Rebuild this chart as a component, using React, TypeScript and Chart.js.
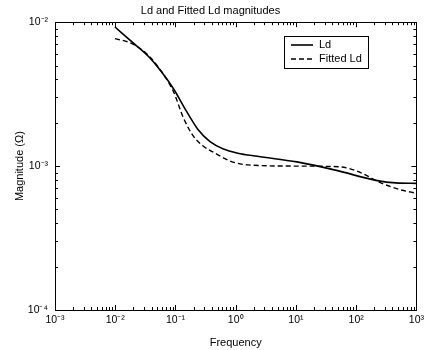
import React, { useEffect, useRef } from 'react';
import { Chart, registerables } from 'chart.js';

Chart.register(...registerables);

// ---- data ----
const ldFreq = [0.0099, 0.0205, 0.036, 0.0568, 0.0927, 0.151, 0.238, 0.375, 0.612, 1.08, 2.29, 10.4, 47, 213, 453, 1000];
const ldMag = [0.00926, 0.00709, 0.00575, 0.0046, 0.00345, 0.00242, 0.00179, 0.00148, 0.00132, 0.00123, 0.00117, 0.00107, 0.000934, 0.000796, 0.000764, 0.000759];

const fitFreq = [0.0099, 0.017, 0.0322, 0.0526, 0.0927, 0.135, 0.197, 0.288, 0.453, 0.828, 1.57, 10.4, 32.2, 68.5, 121, 257, 547, 1000];
const fitMag = [0.00768, 0.00724, 0.0061, 0.00483, 0.00329, 0.00217, 0.00162, 0.00138, 0.00123, 0.00108, 0.00102, 0.001, 0.000996, 0.000973, 0.000897, 0.000764, 0.000684, 0.000648];

const seriesLabels = ['Ld', 'Fitted Ld'];
const xDecades = [1e-3, 1e-2, 1e-1, 1e0, 1e1, 1e2, 1e3];
const yDecades = [1e-4, 1e-3, 1e-2];
const chartTitle = 'Ld and Fitted Ld magnitudes';
const xTitle = 'Frequency';
const yTitle = 'Magnitude (\u03A9)';

const SUP: Record<string, string> = {
  '-': '\u207B', '0': '\u2070', '1': '\u00B9', '2': '\u00B2', '3': '\u00B3',
  '4': '\u2074', '5': '\u2075', '6': '\u2076', '7': '\u2077', '8': '\u2078', '9': '\u2079',
};
const powLabel = (v: number) => {
  const e = String(Math.round(Math.log10(v)));
  return '10' + e.split('').map((c) => SUP[c] || c).join('');
};

const FONT = "'Liberation Sans', Arial, sans-serif";

const matlabPlugin = {
  id: 'matlabBox',
  afterDatasetsDraw(chart: any) {
    const { ctx, chartArea, scales } = chart;
    const { left, right, top, bottom } = chartArea;
    const xs = scales.x;
    const ys = scales.y;
    ctx.save();
    ctx.strokeStyle = '#000';
    ctx.lineWidth = 1;
    ctx.setLineDash([]);
    ctx.strokeRect(Math.round(left) + 0.5, Math.round(top) + 0.5, Math.round(right - left), Math.round(bottom - top));

    const major = 5;
    const minor = 3;
    ctx.beginPath();
    for (let e = -3; e <= 3; e++) {
      for (let m = 1; m <= 9; m++) {
        const v = m * Math.pow(10, e);
        if (v > 1000.0001) break;
        const px = Math.round(xs.getPixelForValue(v)) + 0.5;
        const len = m === 1 ? major : minor;
        ctx.moveTo(px, bottom);
        ctx.lineTo(px, bottom - len);
        ctx.moveTo(px, top);
        ctx.lineTo(px, top + len);
      }
    }
    for (let e = -4; e <= -2; e++) {
      for (let m = 1; m <= 9; m++) {
        const v = m * Math.pow(10, e);
        if (v > 0.0100001) break;
        const py = Math.round(ys.getPixelForValue(v)) + 0.5;
        const len = m === 1 ? major : minor;
        ctx.moveTo(left, py);
        ctx.lineTo(left + len, py);
        ctx.moveTo(right, py);
        ctx.lineTo(right - len, py);
      }
    }
    ctx.stroke();

    // legend
    const bx = 284;
    const by = 36;
    const bw = 84;
    const bh = 32;
    ctx.fillStyle = '#fff';
    ctx.fillRect(bx, by, bw, bh);
    ctx.strokeRect(bx + 0.5, by + 0.5, bw, bh);
    ctx.font = `11px ${FONT}`;
    ctx.textBaseline = 'middle';
    ctx.textAlign = 'left';
    chart.data.datasets.forEach((ds: any, i: number) => {
      const ly = by + 9 + i * 14;
      ctx.beginPath();
      ctx.lineWidth = ds.borderWidth;
      ctx.setLineDash(ds.borderDash || []);
      ctx.moveTo(bx + 7, ly);
      ctx.lineTo(bx + 29, ly);
      ctx.stroke();
      ctx.setLineDash([]);
      ctx.fillStyle = '#000';
      ctx.fillText(ds.label, bx + 35, ly);
    });
    ctx.restore();
  },
};

export default function App() {
  const ref = useRef<HTMLCanvasElement | null>(null);
  useEffect(() => {
    if (!ref.current) return;
    const chart = new Chart(ref.current, {
      type: 'line',
      data: {
        datasets: [
          {
            label: seriesLabels[0],
            data: ldFreq.map((f, i) => ({ x: f, y: ldMag[i] })),
            borderColor: '#000',
            borderWidth: 1.6,
            pointRadius: 0,
            cubicInterpolationMode: 'monotone',
            fill: false,
          },
          {
            label: seriesLabels[1],
            data: fitFreq.map((f, i) => ({ x: f, y: fitMag[i] })),
            borderColor: '#000',
            borderWidth: 1.4,
            borderDash: [5, 3],
            pointRadius: 0,
            cubicInterpolationMode: 'monotone',
            fill: false,
          },
        ],
      },
      options: {
        responsive: false,
        animation: false,
        layout: { padding: { left: 0, right: 7, top: 0, bottom: 0 } },
        plugins: {
          legend: { display: false },
          tooltip: { enabled: false },
          title: {
            display: true,
            text: chartTitle,
            color: '#000',
            font: { family: FONT, size: 11, weight: 'normal' },
            padding: { top: 4, bottom: 5 },
          },
        },
        scales: {
          x: {
            type: 'logarithmic',
            min: 1e-3,
            max: 1e3,
            afterBuildTicks: (scale: any) => {
              scale.ticks = xDecades.map((v) => ({ value: v }));
            },
            afterFit: (scale: any) => {
              scale.height = 40;
            },
            ticks: {
              autoSkip: false,
              maxRotation: 0,
              padding: 4,
              color: '#000',
              font: { family: FONT, size: 10.5 },
              callback: (v: any) => powLabel(Number(v)),
            },
            grid: { display: false, drawTicks: false },
            border: { display: false },
            title: {
              display: true,
              text: xTitle,
              color: '#000',
              font: { family: FONT, size: 11 },
              padding: { top: 4, bottom: 0 },
            },
          },
          y: {
            type: 'logarithmic',
            min: 1e-4,
            max: 1e-2,
            afterBuildTicks: (scale: any) => {
              scale.ticks = yDecades.map((v) => ({ value: v }));
            },
            afterFit: (scale: any) => {
              scale.width = 55;
            },
            ticks: {
              autoSkip: false,
              padding: 7,
              color: '#000',
              font: { family: FONT, size: 10.5 },
              callback: (v: any) => powLabel(Number(v)),
            },
            grid: { display: false, drawTicks: false },
            border: { display: false },
            title: {
              display: true,
              text: yTitle,
              color: '#000',
              font: { family: FONT, size: 11 },
              padding: { top: 13, bottom: 0 },
            },
          },
        },
      },
      plugins: [matlabPlugin],
    } as any);
    return () => chart.destroy();
  }, []);
  return (
    <div style={{ position: 'fixed', left: 0, top: 0, width: 428, height: 350, background: '#fff' }}>
      <canvas ref={ref} width={428} height={350} />
    </div>
  );
}
